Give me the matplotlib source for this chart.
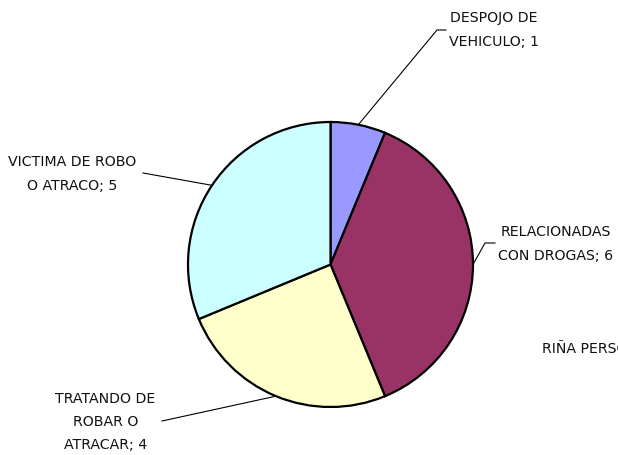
import numpy as np
import matplotlib
matplotlib.use("Agg")
import matplotlib.pyplot as plt

categories = ["DESPOJO DE\nVEHICULO", "RELACIONADAS\nCON DROGAS", "RIÑA PERSONAL",
              "TRATANDO DE\nROBAR O\nATRACAR", "VICTIMA DE ROBO\nO ATRACO"]
values = [1, 6, 0, 4, 5]
colors = ["#9999FF", "#993366", "#FFFFCC", "#FFFFCC", "#CCFFFF"]

W, H = 618, 455
fig = plt.figure(figsize=(W / 100, H / 100), dpi=100)
ax = fig.add_axes([0, 0, 1, 1])

cx, cy, R = 330.5, H - 264.5, 142.5

nz = [i for i, v in enumerate(values) if v > 0]
wedges, _ = ax.pie([values[i] for i in nz], colors=[colors[i] for i in nz],
                   startangle=90, counterclock=False, center=(cx, cy), radius=R,
                   wedgeprops=dict(edgecolor="black", linewidth=1.6),
                   frame=True)
ax.set_xlim(0, W)
ax.set_ylim(0, H)
ax.set_aspect("equal")
ax.axis("off")

# label layout in pixels from top-left
layout = {
    0: dict(tx=494, ty=30, ha="center", elbow=(437, 30), end=(446, 30)),
    1: dict(tx=556, ty=244, ha="center", elbow=(485, 243), end=(495, 243)),
    2: dict(tx=542, ty=349, ha="left", elbow=None, end=None),
    3: dict(tx=105.5, ty=422, ha="center", elbow=None, end=(162, 421)),
    4: dict(tx=72, ty=174, ha="center", elbow=None, end=(143, 173)),
}

wmap = dict(zip(nz, wedges))
font = dict(family="DejaVu Sans", fontsize=10.2, color="#111111")
for i, cat in enumerate(categories):
    L = layout[i]
    label = f"{cat}; {values[i]}"
    ax.text(L["tx"], H - L["ty"], label, ha=L["ha"], va="center",
            multialignment="center", linespacing=1.85, clip_on=False, **font)
    if i in wmap and L["end"] is not None:
        w = wmap[i]
        ang = np.deg2rad((w.theta1 + w.theta2) / 2)
        px, py = cx + R * np.cos(ang), cy + R * np.sin(ang)
        pts = [(px, py)]
        if L["elbow"] is not None:
            pts.append((L["elbow"][0], H - L["elbow"][1]))
        pts.append((L["end"][0], H - L["end"][1]))
        xs, ys = zip(*pts)
        ax.plot(xs, ys, color="black", linewidth=0.8)

fig.savefig("out.png", dpi=100)
